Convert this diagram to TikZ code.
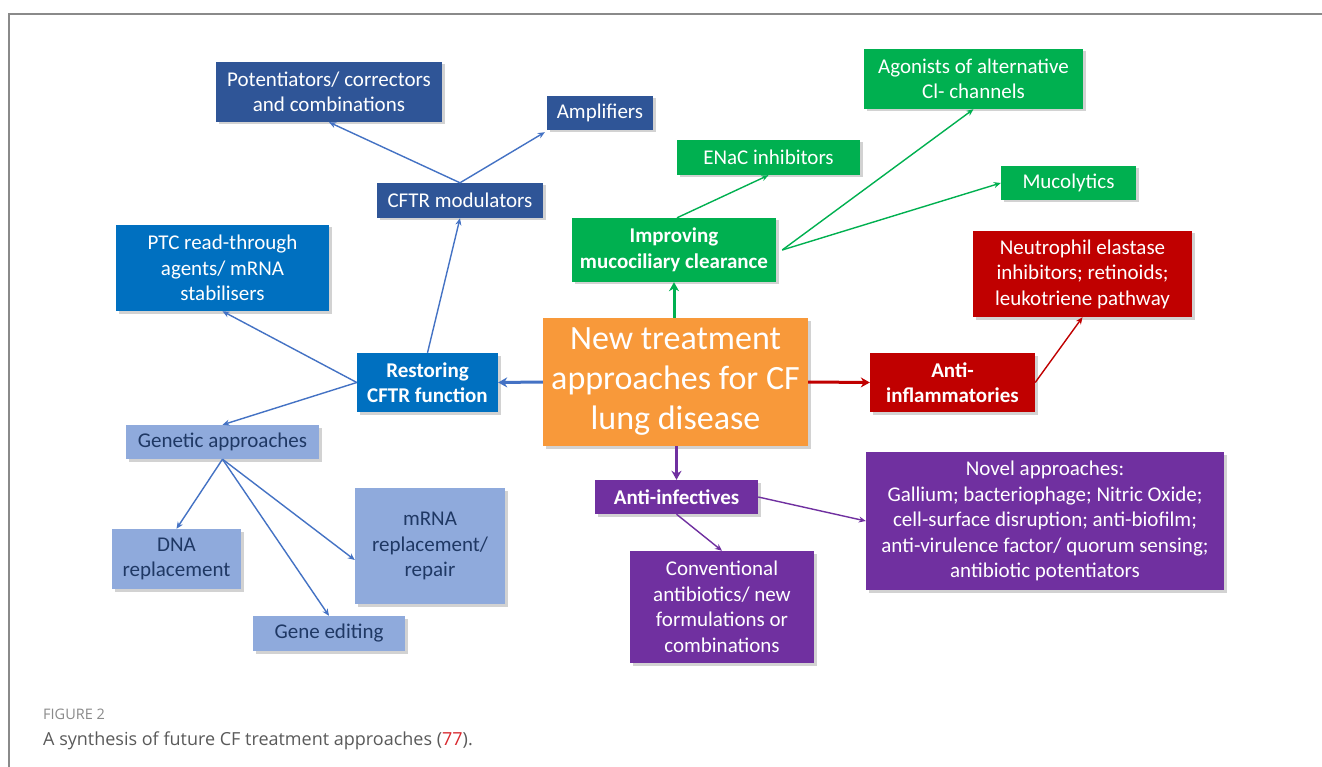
\documentclass[tikz,border=0pt]{standalone}
\usepackage{fontspec}
\setmainfont{Carlito}
\newfontfamily\capfont{Open Sans}
\usetikzlibrary{arrows.meta,shadows}
\definecolor{dblue}{HTML}{2F5597}
\definecolor{mblue}{HTML}{0070C0}
\definecolor{lblue}{HTML}{8FAADC}
\definecolor{navytext}{HTML}{1F3864}
\definecolor{orng}{HTML}{F8993A}
\definecolor{grn}{HTML}{00B050}
\definecolor{dred}{HTML}{C00000}
\definecolor{purp}{HTML}{7030A0}
\definecolor{arrblue}{HTML}{4472C4}
\definecolor{framegray}{HTML}{8A8A8A}
\definecolor{capgray}{HTML}{5A5A5A}
\definecolor{refred}{HTML}{D9282E}
\tikzset{
  box/.style={rectangle, inner sep=2pt, align=center, text=white,
    font=\fontsize{21}{25.5}\selectfont,
    drop shadow={opacity=0.35, shadow xshift=2.5pt, shadow yshift=-2.5pt}},
  bd/.style={box, fill=dblue},
  bm/.style={box, fill=mblue},
  bl/.style={box, fill=lblue, text=navytext},
  bg/.style={box, fill=grn},
  br/.style={box, fill=dred},
  bp/.style={box, fill=purp},
  boldtxt/.style={font=\fontsize{21}{25.5}\selectfont\bfseries},
  thin arr/.style={line width=1.4pt, -{Stealth[length=7pt,width=6pt]}},
  thick arr/.style={line width=3pt, -{Stealth[length=9pt,width=10pt]}},
}
\begin{document}
\begin{tikzpicture}[x=1pt,y=-1pt]
\useasboundingbox (0,0) rectangle (1322,767);
\fill[white] (0,0) rectangle (1322,767);
\draw[framegray, line width=1.2pt] (9,767) -- (9,14) -- (1322,14);

% blue branch
\node[bd, minimum width=226pt, minimum height=60pt] (pot) at (329,92) {Potentiators/ correctors\\and combinations};
\node[bd, minimum width=106pt, minimum height=34pt] (amp) at (600,113) {Amplifiers};
\node[bd, minimum width=166pt, minimum height=35pt] (mod) at (460,200.5) {CFTR modulators};
\node[bm, minimum width=213pt, minimum height=86pt] (ptc) at (222.5,268) {PTC read-through\\agents/ mRNA\\stabilisers};
\node[bm, boldtxt, minimum width=141pt, minimum height=59pt] (rest) at (427.5,382.5) {Restoring\\CFTR function};
\node[bl, minimum width=193pt, minimum height=34pt] (gen) at (222.5,442) {Genetic approaches};
\node[bl, minimum width=129pt, minimum height=60pt] (dna) at (176.5,559) {DNA\\replacement};
\node[bl, minimum width=150pt, minimum height=116pt] (mrna) at (430,546) {mRNA\\replacement/\\repair};
\node[bl, minimum width=152pt, minimum height=35pt] (edit) at (329,633.5) {Gene editing};

% centre
\node[box, fill=orng, minimum width=265pt, minimum height=128pt, font=\fontsize{34}{40}\selectfont] (ctr) at (675.5,382) {New treatment\\approaches for CF\\lung disease};

% green branch
\node[bg, boldtxt, minimum width=204pt, minimum height=64pt] (imp) at (674,250) {Improving\\mucociliary clearance};
\node[bg, minimum width=183pt, minimum height=35pt] (enac) at (768.5,157.5) {ENaC inhibitors};
\node[bg, minimum width=219pt, minimum height=60pt] (ago) at (973.5,79) {Agonists of alternative\\Cl- channels};
\node[bg, minimum width=135pt, minimum height=34pt] (muco) at (1068.5,183) {Mucolytics};

% red branch
\node[br, minimum width=219pt, minimum height=86pt] (neut) at (1082.5,274) {Neutrophil elastase\\inhibitors; retinoids;\\leukotriene pathway};
\node[br, boldtxt, minimum width=165pt, minimum height=59pt] (antiinf) at (952.5,382.5) {Anti-\\inflammatories};

% purple branch
\node[bp, boldtxt, minimum width=163pt, minimum height=34pt] (antiinfect) at (676.5,497) {Anti-infectives};
\node[bp, minimum width=358pt, minimum height=138pt] (novel) at (1045,521) {Novel approaches:\\Gallium; bacteriophage; Nitric Oxide;\\cell-surface disruption; anti-biofilm;\\anti-virulence factor/ quorum sensing;\\antibiotic potentiators};
\node[bp, minimum width=184pt, minimum height=112pt] (conv) at (722,607) {Conventional\\antibiotics/ new\\formulations or\\combinations};

% connectors
\draw[thick arr, arrblue] (ctr.west) -- (rest.east);
\draw[thick arr, grn] (ctr.north -| imp.south) -- (imp.south);
\draw[thick arr, dred] (ctr.east) -- (antiinf.west);
\draw[thick arr, purp] (ctr.south -| antiinfect.north) -- (antiinfect.north);

\draw[thin arr, arrblue] (rest.north) -- (mod.south);
\draw[thin arr, arrblue] (mod.north) -- (pot.south);
\draw[thin arr, arrblue] (mod.north) -- ([xshift=-2pt,yshift=-2pt]amp.south west);
\draw[thin arr, arrblue] (rest.west) -- (ptc.south);
\draw[thin arr, arrblue] (rest.west) -- (gen.north);
\draw[thin arr, arrblue] (gen.south) -- (dna.north);
\draw[thin arr, arrblue] (gen.south) -- (edit.north);
\draw[thin arr, arrblue] (gen.south) -- ([yshift=-14pt]mrna.west);

\draw[thin arr, grn] ([xshift=3pt]imp.north) -- (enac.south);
\draw[thin arr, grn] ([xshift=6pt]imp.east) -- (ago.south);
\draw[thin arr, grn] ([xshift=6pt]imp.east) -- (muco.west);

\draw[thin arr, dred] (antiinf.east) -- (neut.south);

\draw[thin arr, purp] (antiinfect.east) -- (novel.west);
\draw[thin arr, purp] (antiinfect.south) -- (conv.north);

% caption
\node[anchor=base west, inner sep=0pt, text=framegray, font=\capfont\fontsize{14.5}{17}\selectfont] (figlab) at (43,719) {FIGURE 2};
\node[anchor=base west, inner sep=0pt, text=capgray, font=\capfont\fontsize{18}{21}\selectfont] (cap) at (43,745) {A synthesis of future CF treatment approaches (\textcolor{refred}{77}).};
\end{tikzpicture}
\end{document}
